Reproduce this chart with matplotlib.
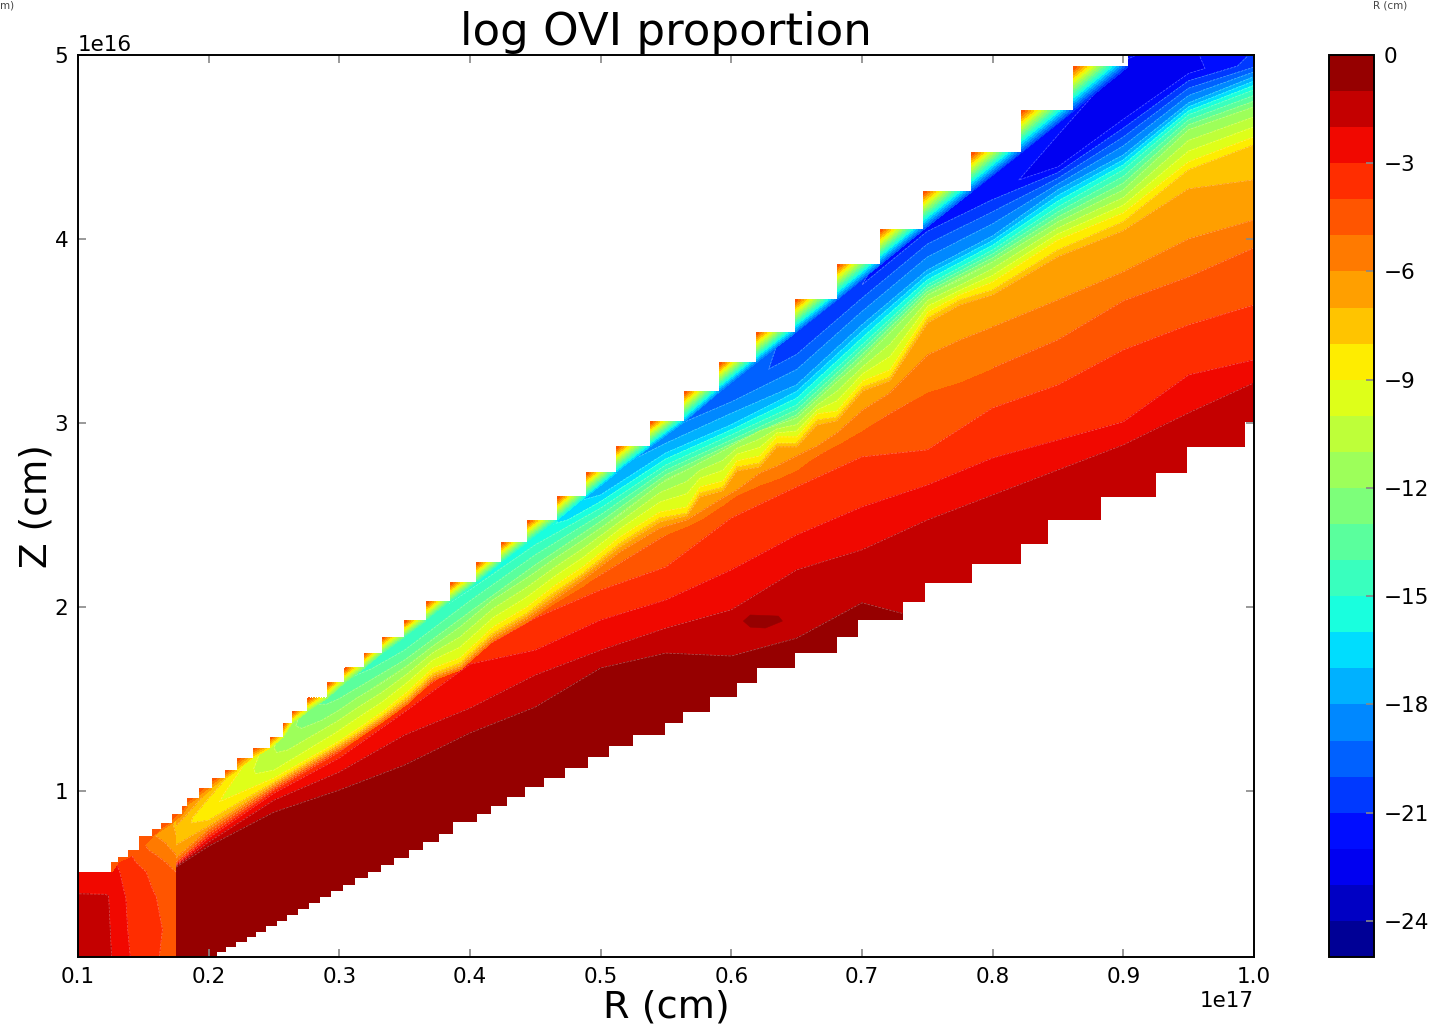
import numpy as np
import matplotlib
matplotlib.use("Agg")
import matplotlib.pyplot as plt
from matplotlib.path import Path
from matplotlib.patches import PathPatch
from matplotlib.tri import Triangulation

# all R in units of 1e17 cm, all Z in units of 1e16 cm
r_stations = [0.175, 0.2, 0.25, 0.3, 0.35, 0.4, 0.45, 0.5, 0.55, 0.6,
              0.65, 0.7, 0.75, 0.8, 0.85, 0.9, 0.95, 1.0]

# one line per R station, bottom to top
z_table = [
    [-0.135, 0.588, 0.594, 0.599, 0.604, 0.615, 0.637, 0.708, 0.746, 0.778, 0.805, 0.833, 0.855, 0.887, 1.007],
    [-0.135, 0.702, 0.724, 0.746, 0.762, 0.778, 0.795, 0.811, 0.843, 0.887, 0.909, 0.936, 0.963, 1.007, 1.115],
    [0.083, 0.887, 0.952, 0.990, 1.007, 1.017, 1.028, 1.039, 1.050, 1.072, 1.115, 1.159, 1.197, 1.235, 1.415],
    [0.247, 1.007, 1.105, 1.181, 1.213, 1.224, 1.235, 1.246, 1.257, 1.273, 1.387, 1.468, 1.539, 1.593, 1.767],
    [0.437, 1.143, 1.306, 1.431, 1.480, 1.490, 1.501, 1.512, 1.523, 1.539, 1.632, 1.713, 1.794, 1.865, 2.013],
    [0.626, 1.317, 1.452, 1.691, 1.740, 1.751, 1.762, 1.773, 1.784, 1.800, 1.887, 1.975, 2.094, 2.176, 2.339],
    [0.789, 1.458, 1.632, 1.767, 1.942, 1.975, 1.997, 2.013, 2.029, 2.051, 2.149, 2.230, 2.339, 2.529, 2.692],
    [1.007, 1.670, 1.767, 1.931, 2.094, 2.176, 2.230, 2.257, 2.279, 2.306, 2.393, 2.502, 2.610, 2.746, 2.936],
    [1.174, 1.751, 1.887, 2.040, 2.219, 2.393, 2.447, 2.491, 2.518, 2.556, 2.692, 2.773, 2.855, 2.963, 3.153],
    [1.387, 1.735, 1.986, 2.203, 2.485, 2.594, 2.637, 2.730, 2.757, 2.784, 2.844, 2.909, 2.991, 3.153, 3.453],
    [1.550, 1.832, 2.203, 2.393, 2.654, 2.757, 2.844, 2.893, 2.920, 2.953, 3.018, 3.099, 3.208, 3.398, 3.751],
    [1.767, 2.024, 2.312, 2.545, 2.817, 2.963, 3.072, 3.192, 3.224, 3.262, 3.344, 3.425, 3.534, 3.751, 4.104],
    [1.822, 1.931, 2.474, 2.664, 2.855, 3.170, 3.371, 3.545, 3.572, 3.604, 3.696, 3.751, 3.832, 4.077, 4.376],
    [1.958, 2.040, 2.610, 2.811, 3.083, 3.300, 3.523, 3.696, 3.724, 3.767, 3.876, 3.941, 4.017, 4.267, 4.621],
    [2.121, 2.203, 2.746, 2.909, 3.208, 3.453, 3.670, 3.904, 3.941, 3.995, 4.093, 4.175, 4.267, 4.402, 4.838],
    [2.339, 2.420, 2.882, 3.007, 3.398, 3.664, 3.822, 4.045, 4.094, 4.142, 4.267, 4.376, 4.457, 4.675, 5.083],
    [2.556, 2.637, 3.056, 3.262, 3.534, 3.795, 4.001, 4.273, 4.376, 4.420, 4.594, 4.675, 4.740, 4.920, 5.137],
    [2.728, 2.909, 3.219, 3.344, 3.642, 3.952, 4.104, 4.322, 4.512, 4.555, 4.718, 4.811, 4.882, 4.947, 5.110],
]
v_table = [
    [-0.5, -1, -2, -3, -4, -5, -6, -7, -7.3, -7.4, -7.2, -6.5, -6, -5.5, -5],
    [-0.5, -1, -2, -3, -4, -5, -6, -7, -8, -8.7, -8.8, -8.5, -8, -7, -6],
    [-0.5, -1, -2, -3, -4, -5, -6, -7, -8, -9, -10, -10.6, -10.9, -11, -10],
    [-0.5, -1, -2, -3, -4, -5, -6, -7, -8, -9, -11, -12.5, -13.5, -14, -13.5],
    [-0.5, -1, -2, -3, -4, -5, -6, -7, -8, -9, -11, -13, -14.5, -15, -14.5],
    [-0.5, -1, -2, -3, -4, -5, -6, -7, -8, -9, -11, -13, -15, -15.9, -15.5],
    [-0.5, -1, -2, -3, -4, -5, -6, -7, -8, -9, -11, -13, -15, -17.2, -16],
    [-0.5, -1, -2, -3, -4, -5, -6, -7, -8, -9, -11, -14, -17, -18.3, -17.5],
    [-0.5, -1, -2, -3, -4, -5, -6, -7, -8, -9, -12, -15, -17.5, -19, -18],
    [-0.5, -1, -2, -3, -4, -5, -6, -7, -8, -9, -11, -14, -17, -19.6, -19],
    [-0.5, -1, -2, -3, -4, -5, -6, -7, -8, -9, -12, -15, -18, -20.3, -20],
    [-0.5, -1, -2, -3, -4, -5, -6, -7, -8, -9, -12, -15, -18, -21, -20.5],
    [-0.5, -1, -2, -3, -4, -5, -6, -7, -8, -9, -12, -15, -18, -21.5, -21],
    [-0.5, -1, -2, -3, -4, -5, -6, -7, -8, -9, -12, -15, -18, -21.8, -21.5],
    [-0.5, -1, -2, -3, -4, -5, -6, -7, -8, -9, -12, -15, -18, -22.3, -21.5],
    [-0.5, -1, -2, -3, -4, -5, -6, -7, -8, -9, -12, -15, -18, -22.5, -21.8],
    [-0.5, -1, -2, -3, -4, -5, -6, -7, -8, -9, -12, -15, -18, -22.5, -22],
    [-0.5, -1, -2, -3, -4, -5, -6, -7, -8, -9, -12, -15, -18, -20.5, -21.5],
]

# finer read of the jagged front between R=0.3 and R=0.8
front_r = [0.3, 0.3135, 0.3327, 0.3518, 0.3717, 0.3923, 0.4176, 0.4436, 0.4635, 0.4865, 0.5148,
           0.5454, 0.5661, 0.576, 0.5936, 0.6043, 0.6219, 0.6349, 0.6502, 0.6656, 0.6809,
           0.7007, 0.7214, 0.7505, 0.775, 0.8002]
front_v = [-5, -6, -7, -8, -9, -10.5, -12]
front_z = [
    [1.224, 1.235, 1.246, 1.257, 1.273, 1.360, 1.441],
    [1.284, 1.295, 1.305, 1.316, 1.338, 1.425, 1.507],
    [1.376, 1.387, 1.398, 1.409, 1.430, 1.512, 1.588],
    [1.474, 1.485, 1.496, 1.512, 1.539, 1.615, 1.680],
    [1.604, 1.615, 1.626, 1.642, 1.670, 1.735, 1.789],
    [1.659, 1.670, 1.680, 1.697, 1.724, 1.811, 1.892],
    [1.816, 1.827, 1.843, 1.860, 1.892, 1.968, 2.040],
    [1.920, 1.936, 1.952, 1.968, 2.001, 2.083, 2.159],
    [2.017, 2.034, 2.055, 2.077, 2.110, 2.186, 2.257],
    [2.115, 2.148, 2.170, 2.186, 2.219, 2.295, 2.365],
    [2.267, 2.300, 2.327, 2.349, 2.382, 2.447, 2.501],
    [2.382, 2.430, 2.463, 2.485, 2.517, 2.599, 2.670],
    [2.441, 2.474, 2.496, 2.512, 2.545, 2.653, 2.746],
    [2.474, 2.517, 2.599, 2.621, 2.653, 2.724, 2.784],
    [2.555, 2.594, 2.632, 2.653, 2.686, 2.773, 2.849],
    [2.610, 2.637, 2.740, 2.762, 2.795, 2.849, 2.892],
    [2.664, 2.729, 2.762, 2.784, 2.822, 2.892, 2.958],
    [2.697, 2.767, 2.871, 2.892, 2.925, 2.958, 2.990],
    [2.746, 2.822, 2.871, 2.892, 2.925, 2.974, 3.028],
    [2.827, 2.876, 2.990, 3.017, 3.050, 3.083, 3.126],
    [2.882, 2.947, 3.012, 3.034, 3.066, 3.148, 3.224],
    [2.963, 3.072, 3.175, 3.197, 3.229, 3.289, 3.343],
    [3.061, 3.164, 3.229, 3.251, 3.289, 3.398, 3.490],
    [3.170, 3.371, 3.545, 3.572, 3.604, 3.653, 3.697],
    [3.224, 3.452, 3.642, 3.670, 3.697, 3.735, 3.778],
    [3.300, 3.523, 3.697, 3.724, 3.767, 3.822, 3.876],
]

# block near the origin, left of the jump at R=0.175
block_r = [0.1, 0.121, 0.132, 0.144, 0.155, 0.167, 0.175]
block_z = [0.1, 0.25, 0.43, 0.452, 0.561, 0.654, 0.763, 0.872]
block_v = [
    [-1.6, -1.7, -2.4, -3.3, -3.7, -4.2, -4.6],
    [-1.6, -1.7, -2.6, -3.4, -3.6, -4.1, -4.7],
    [-1.7, -1.8, -2.7, -3.5, -3.8, -4.3, -4.8],
    [-2.2, -2.2, -2.8, -3.5, -3.9, -4.3, -4.8],
    [-2.5, -2.6, -3.0, -3.7, -4.1, -4.6, -5.0],
    [-2.5, -2.6, -3.4, -4.2, -4.8, -5.3, -6.0],
    [-2.5, -2.6, -4.0, -5.0, -5.8, -6.5, -7.0],
    [-3.0, -3.0, -4.5, -5.5, -6.0, -6.8, -7.2],
]

# small closed patch above -1 inside the dark red band
island_r = [0.6092, 0.6145, 0.6360, 0.6391, 0.6260, 0.6145]
island_z = [1.925, 1.958, 1.952, 1.925, 1.887, 1.892]
island_v = -0.5

# the grid edge, steps on top
top_r = [0.122, 0.126, 0.131, 0.139, 0.147, 0.157, 0.164, 0.172, 0.180, 0.184, 0.193,
         0.203, 0.213, 0.222, 0.234, 0.247, 0.257, 0.264, 0.276, 0.291, 0.304, 0.319,
         0.333, 0.350, 0.367, 0.385, 0.405, 0.424, 0.444, 0.467, 0.489, 0.512, 0.538,
         0.564, 0.591, 0.619, 0.649, 0.681, 0.714, 0.747, 0.784, 0.822, 0.862, 0.9036]
top_z = [0.561, 0.615, 0.642, 0.681, 0.752, 0.790, 0.827, 0.876, 0.920, 0.963, 1.017,
         1.072, 1.115, 1.181, 1.235, 1.295, 1.371, 1.436, 1.507, 1.589, 1.670, 1.751,
         1.838, 1.926, 2.029, 2.132, 2.241, 2.350, 2.470, 2.600, 2.730, 2.872, 3.007,
         3.170, 3.328, 3.491, 3.670, 3.861, 4.051, 4.257, 4.469, 4.697, 4.936, 5.0]
# value reached on the diagonal of each step
step_base = [-4.5, -4.5, -4.8, -5, -5, -5.2, -5.5, -5.8, -6, -6.5, -7,
             -7.5, -8, -8.5, -9, -10, -10.5, -11, -12, -12.5, -13, -13.5,
             -14, -14.5, -15, -15, -15.5, -15.5, -16, -16.5, -17, -17.5, -18,
             -18.5, -19, -19, -19.5, -19.5, -20, -20, -20.5, -20.5, -21, -21]
step_tip = -4.0

# and steps below
low_r = [0.206, 0.213, 0.221, 0.229, 0.236, 0.244, 0.252, 0.260, 0.268, 0.277, 0.285, 0.294,
         0.303, 0.312, 0.322, 0.332, 0.342, 0.353, 0.364, 0.376, 0.387, 0.405, 0.416, 0.428,
         0.442, 0.457, 0.473, 0.490, 0.506, 0.525, 0.549, 0.563, 0.584, 0.604, 0.620, 0.649,
         0.681, 0.697, 0.731, 0.748, 0.784, 0.822, 0.842, 0.883, 0.925, 0.949, 0.993]
low_z = [0.125, 0.153, 0.180, 0.207, 0.235, 0.267, 0.294, 0.326, 0.359, 0.392, 0.425, 0.458,
         0.491, 0.529, 0.561, 0.599, 0.637, 0.680, 0.724, 0.767, 0.832, 0.876, 0.920, 0.969,
         1.023, 1.072, 1.126, 1.186, 1.246, 1.306, 1.371, 1.431, 1.512, 1.589, 1.670, 1.751,
         1.838, 1.931, 2.029, 2.132, 2.235, 2.344, 2.475, 2.600, 2.730, 2.872, 3.007]

levels = np.arange(-25, 1, 1)
cbar_ticks = [0, -3, -6, -9, -12, -15, -18, -21, -24]
x_ticks = [0.1, 0.2, 0.3, 0.4, 0.5, 0.6, 0.7, 0.8, 0.9, 1.0]
y_ticks = [1, 2, 3, 4, 5]

RS, ZS = 1e17, 1e16
W, H = 1436, 1031

plt.rcParams['font.family'] = ['DejaVu Sans']
fig = plt.figure(figsize=(W / 100, H / 100), dpi=100)
ax = fig.add_axes([78 / W, (H - 957) / H, 1176 / W, 902 / H])
cax = fig.add_axes([1329 / W, (H - 957) / H, 45 / W, 902 / H])

# outline of the computed region
verts = [(0.1 * RS, 0.1 * ZS), (low_r[0] * RS, 0.1 * ZS)]
for i in range(len(low_r)):
    verts.append((low_r[i] * RS, low_z[i] * ZS))
    nxt = low_r[i + 1] if i + 1 < len(low_r) else 1.0
    verts.append((nxt * RS, low_z[i] * ZS))
verts.append((1.0 * RS, 5.0 * ZS))
for i in range(len(top_r) - 1, 0, -1):
    verts.append((top_r[i] * RS, top_z[i] * ZS))
    verts.append((top_r[i] * RS, top_z[i - 1] * ZS))
verts.append((top_r[0] * RS, top_z[0] * ZS))
verts.append((0.1 * RS, top_z[0] * ZS))
verts.append((0.1 * RS, 0.1 * ZS))
outline = PathPatch(Path(verts), transform=ax.transData, fc='none', ec='none')

r_grid = np.array([[r] * len(z_table[0]) for r in r_stations]) * RS
z_grid = np.array(z_table) * ZS
v_grid = np.array(v_table, dtype=float)
front_rg = np.array([[r] * len(front_v) for r in front_r]) * RS
front_zg = np.array(front_z) * ZS
front_vg = np.array([front_v] * len(front_r), dtype=float)

opts = dict(levels=levels, cmap='jet', vmin=-25, vmax=0)
left = ax.contourf(np.array(block_r) * RS, np.array(block_z) * ZS, np.array(block_v), **opts)
left.set_clip_path(outline)
main = ax.contourf(r_grid, z_grid, v_grid, **opts)
main.set_clip_path(outline)
front = ax.contourf(front_rg, front_zg, front_vg, zorder=2.5, **opts)
front.set_clip_path(outline)
ax.fill(np.array(island_r) * RS, np.array(island_z) * ZS,
        color=plt.get_cmap('jet')((island_v + 25) / 25), lw=0.4, zorder=2.5)

for cs_x, cs_y, cs_v, zo in [(r_grid, z_grid, v_grid, 2),
                             (np.array(block_r) * RS, np.array(block_z) * ZS, np.array(block_v), 2),
                             (front_rg, front_zg, front_vg, 2.6)]:
    lines = ax.contour(cs_x, cs_y, cs_v, levels=levels, colors='white', alpha=0.35,
                       linewidths=0.5, linestyles='--', zorder=zo)
    lines.set_clip_path(outline)

# each step: a triangle from its corner to its diagonal
for i in range(1, len(top_r) - 1):
    xs = [top_r[i] * RS, top_r[i + 1] * RS, top_r[i] * RS]
    ys = [top_z[i] * ZS, top_z[i] * ZS, top_z[i - 1] * ZS]
    ax.tricontourf(Triangulation(xs, ys, [[0, 1, 2]]),
                   [step_tip, step_base[i], step_base[i]], zorder=3, **opts)

ax.set_xlim(0.1 * RS, 1.0 * RS)
ax.set_ylim(0.1 * ZS, 5.0 * ZS)
ax.set_xticks([t * RS for t in x_ticks])
ax.set_yticks([t * ZS for t in y_ticks])
ax.tick_params(direction='in', length=6, width=1.2, color='#888888', top=True, right=True,
               labelsize=15.5, pad=7)
ax.xaxis.get_offset_text().set_fontsize(15.5)
ax.yaxis.get_offset_text().set_fontsize(15.5)
for s in ax.spines.values():
    s.set_linewidth(1.4)
    s.set_zorder(4)

ax.set_title('log OVI proportion', fontsize=32.5, pad=7)
ax.set_xlabel('R (cm)', fontsize=27.5, labelpad=2)
ax.set_ylabel('Z (cm)', fontsize=27, labelpad=0)

cb = fig.colorbar(main, cax=cax, ticks=cbar_ticks)
cb.ax.tick_params(direction='in', length=6, width=1.2, color='#888888', labelsize=15.5, pad=7)
cb.outline.set_linewidth(1.4)

# bits of the neighbouring panels, cut off by the crop
fig.text(1390 / W, 1 - 5 / H, 'R (cm)', fontsize=7.5, ha='center', va='center', color='#444444')
fig.text(0, 1 - 5 / H, 'm)', fontsize=7.5, ha='left', va='center', color='#444444')

fig.savefig('out.png', dpi=100)
